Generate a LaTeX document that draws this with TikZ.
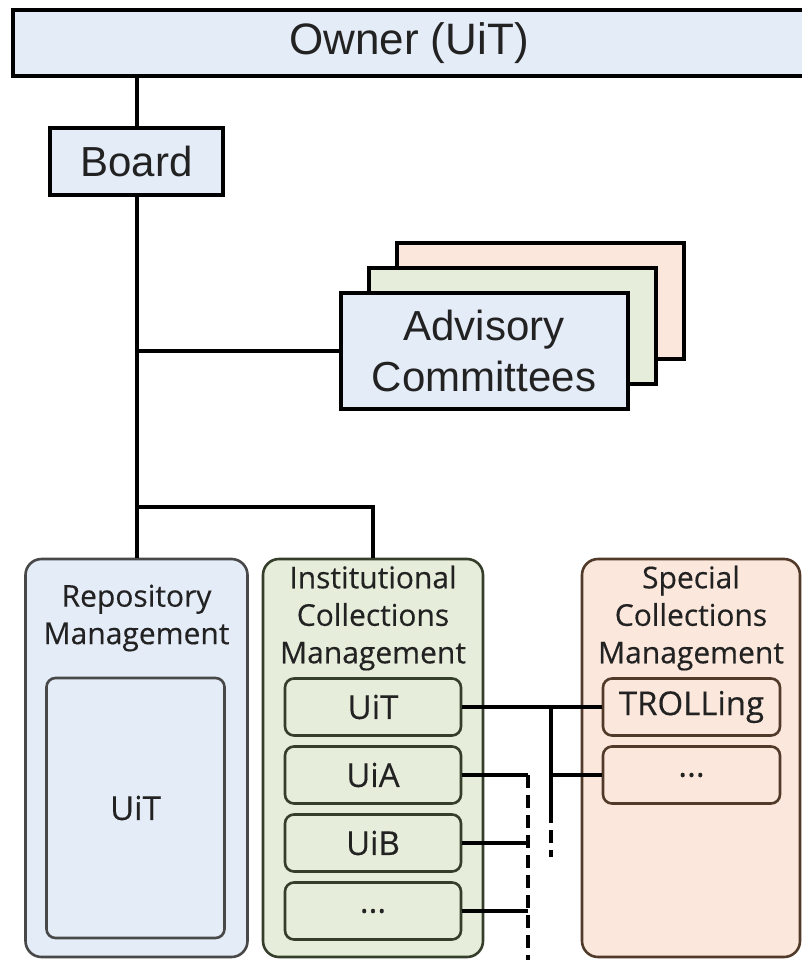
\documentclass[tikz,border=0pt]{standalone}
\usepackage{fontspec}
\setmainfont{Liberation Sans}
\newfontfamily\opensans{Open Sans}[FakeBold=0.35]
\usetikzlibrary{calc}
\definecolor{boxblue}{RGB}{228,236,247}
\definecolor{boxgreen}{RGB}{230,237,218}
\definecolor{boxpeach}{RGB}{251,231,219}
\definecolor{edgegray}{RGB}{72,72,72}
\definecolor{edgegreen}{RGB}{52,62,42}
\definecolor{edgebrown}{RGB}{82,58,42}
\definecolor{inkgray}{RGB}{34,34,34}

\begin{document}
\begin{tikzpicture}[
        x=1pt, y=-1pt,
        topbox/.style={draw=black,line width=4pt,fill=boxblue,inner sep=0pt,text=inkgray,align=center,font=\fontsize{42}{51}\selectfont},
        unitbox/.style={draw,rounded corners=16pt,line width=2.6pt,minimum width=220pt,minimum height=398pt,inner sep=0pt},
        subbox/.style={draw,rounded corners=9pt,line width=2.6pt,minimum width=176pt,minimum height=57pt,inner sep=0pt,text=inkgray,font=\opensans\fontsize{33}{38}\selectfont},
        boxtitle/.style={inner sep=0pt,align=center,text=inkgray,font=\opensans\fontsize{30}{37.5}\selectfont},
        toplink/.style={line width=4pt},
        link/.style={line width=3.6pt},
        dashlink/.style={line width=3.6pt,dash pattern=on 13pt off 7pt}
    ]
        \useasboundingbox (0,0) rectangle (802,960);
        % top of the hierarchy
        \node[topbox,minimum width=792pt,minimum height=66pt,font=\fontsize{44}{50}\selectfont] (owner) at (409,43) {Owner (UiT)};
        \node[topbox,minimum width=173pt,minimum height=67pt] (board) at (136.5,161.5) {Board};
        % stacked advisory committees
        \coordinate (adv) at (484,351);
        \node[topbox,fill=boxpeach,minimum width=287pt,minimum height=116pt] (advC) at ($(adv)+(56,-50)$) {};
        \node[topbox,fill=boxgreen,minimum width=287pt,minimum height=116pt] (advB) at ($(adv)+(28,-25)$) {};
        \node[topbox,minimum width=287pt,minimum height=116pt] (advA) at (adv) {Advisory\\Committees};
        % management units
        \node[unitbox,fill=boxblue,draw=edgegray,minimum width=222pt] (repo) at (136.5,758) {};
        \node[unitbox,fill=boxgreen,draw=edgegreen] (inst) at (373,758) {};
        \node[unitbox,fill=boxpeach,draw=edgebrown,minimum width=218pt] (spec) at (691,758) {};
        \node[boxtitle] (repoTitle) at (136.5,618) {Repository\\Management};
        \node[boxtitle] (instTitle) at (373,618) {Institutional\\Collections\\Management};
        \node[boxtitle] (specTitle) at (691,618) {Special\\Collections\\Management};
        \node[subbox,fill=boxblue,draw=edgegray,minimum width=178pt,minimum height=260pt] (repoUiT) at (135.5,808) {UiT};
        \node[subbox,fill=boxgreen,draw=edgegreen] (instUiT) at (373,707) {UiT};
        \node[subbox,fill=boxgreen,draw=edgegreen] (instUiA) at (373,775) {UiA};
        \node[subbox,fill=boxgreen,draw=edgegreen] (instUiB) at (373,843) {UiB};
        \node[subbox,fill=boxgreen,draw=edgegreen] (instMore) at (373,911) {...};
        \node[subbox,fill=boxpeach,draw=edgebrown,minimum width=177pt] (troll) at (691.5,707) {TROLLing};
        \node[subbox,fill=boxpeach,draw=edgebrown,minimum width=177pt] (specMore) at (691.5,775) {...};
        % reporting lines
        \draw[toplink] (owner.south -| board.north) -- (board.north);
        \draw[toplink] (board.south) -- (repo.north);
        \draw[toplink] (board.south |- advA.west) -- (advA.west);
        \coordinate (fork) at (136.5,507);
        \draw[toplink] (fork) -| (inst.north);
        % links between collections
        \draw[link] (instUiT.east) -- (troll.west);
        \coordinate (trollJoin) at (551,707);
        \draw[link] (trollJoin) |- (specMore.west);
        \draw[link] (trollJoin) -- ++(0,103) coordinate (trollCut);
        \draw[dashlink] (trollCut) -- ++(0,47);
        \coordinate (instBus) at (528,775);
        \draw[link] (instUiA.east) -- (instBus);
        \draw[dashlink] (instBus) -- (528,966);
        \draw[link] (instUiB.east) -- (instUiB.east -| instBus);
        \draw[link] (instMore.east) -- (instMore.east -| instBus);
    \end{tikzpicture}
\end{document}
